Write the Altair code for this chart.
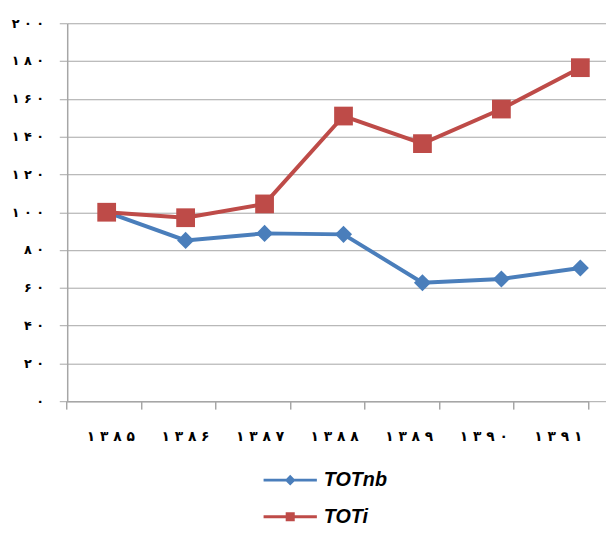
import altair as alt
import pandas as pd

years = ["۱۳۸۵", "۱۳۸۶", "۱۳۸۷", "۱۳۸۸", "۱۳۸۹", "۱۳۹۰", "۱۳۹۱"]
totnb = [100, 85.1, 88.8, 88.3, 62.7, 64.7, 70.5]
toti = [100, 97.1, 104.4, 150.9, 136.3, 154.6, 176.5]
series = ["TOTnb", "TOTi"]
markers = ["diamond", "square"]
marker_sizes = [300, 361]
colors = ["#4A7EBB", "#BE4B48"]
y_ticks = list(range(0, 201, 20))

rows = []
for y, a, b in zip(years, totnb, toti):
    rows.append({"year": y, "series": "TOTnb", "value": a})
    rows.append({"year": y, "series": "TOTi", "value": b})
df = pd.DataFrame(rows)

# number -> Persian digits, spaced
fa = "۰۱۲۳۴۵۶۷۸۹"
expr = "datum.label"
for i, d in enumerate(fa):
    expr = f"replace({expr}, regexp('{i}','g'), '{d}')"
expr = f"replace({expr}, regexp('(.)(?=.)','g'), '$1 ')"
x_expr = "replace(datum.label, regexp('(.)(?=.)','g'), '$1 ')"

GRID = "#A6A6A6"

x_pts = alt.X("year:N", sort=years,
              scale=alt.Scale(type="point", range=[0, 560], padding=0.5),
              axis=None)
y_enc = alt.Y("value:Q",
              scale=alt.Scale(domain=[0, 200], nice=False, zero=True),
              axis=alt.Axis(values=y_ticks, title=None, grid=True,
                            gridColor=GRID, gridWidth=1,
                            domainColor=GRID, domainWidth=1.5,
                            tickColor=GRID, tickSize=8, tickWidth=1,
                            labelExpr=expr, labelFont="DejaVu Sans",
                            labelFontSize=13, labelFontWeight="bold",
                            labelColor="#000", labelPadding=16))

line_diamond = ("M-1,-0.055H1V0.055H-1Z "
                "M0,-0.2L0.2,0L0,0.2L-0.2,0Z")
line_square = ("M-1,-0.055H1V0.055H-1Z "
               "M-0.17,-0.17H0.17V0.17H-0.17Z")

leg = alt.Legend(title=None, orient="none", direction="vertical",
                 legendX=199, legendY=436,
                 symbolSize=2916, symbolStrokeWidth=0, symbolOpacity=1,
                 labelFont="Liberation Sans", labelFontSize=20,
                 labelFontWeight="bold", labelFontStyle="italic",
                 labelColor="#000", labelOffset=7, rowPadding=0)

color_scale = alt.Scale(domain=series, range=colors)
color_enc = alt.Color("series:N", sort=series, scale=color_scale, legend=leg)

base = alt.Chart(df)

legend_layer = base.mark_point(filled=True, opacity=0).encode(
    x=x_pts, y=y_enc, color=color_enc,
    shape=alt.Shape("series:N", sort=series,
                    scale=alt.Scale(domain=series,
                                    range=[line_diamond, line_square]),
                    legend=leg))

lines = base.mark_line(strokeWidth=4).encode(x=x_pts, y=y_enc, color=color_enc)

point_layers = []
for s, m, sz in zip(series, markers, marker_sizes):
    point_layers.append(
        base.transform_filter(alt.datum.series == s)
        .mark_point(filled=True, opacity=1, shape=m, size=sz)
        .encode(x=x_pts, y=y_enc, color=color_enc)
    )

axis_layer = alt.Chart(pd.DataFrame({"year": years})).mark_point(opacity=0).encode(
    x=alt.X("year:N", sort=years,
            scale=alt.Scale(type="band", range=[-1, 528],
                            paddingInner=0, paddingOuter=0),
            axis=alt.Axis(orient="bottom", title=None, tickBand="extent",
                          domainColor=GRID, domainWidth=1.5,
                          tickColor=GRID, tickSize=8, tickWidth=1.5,
                          labelAngle=0, labelExpr=x_expr,
                          labelFont="DejaVu Sans", labelFontSize=14,
                          labelFontWeight="bold", labelColor="#000",
                          labelPadding=21, labelOffset=7))
)

chart = alt.layer(axis_layer, legend_layer, lines, *point_layers).resolve_scale(
    x="independent"
).properties(
    width=546, height=383,
    autosize=alt.AutoSizeParams(type="none"),
    padding={"left": 60, "top": 12, "right": 0, "bottom": 123},
    background="white"
).configure_view(stroke=None)

chart.save("out.html", embed_options={"renderer": "svg", "actions": False})
